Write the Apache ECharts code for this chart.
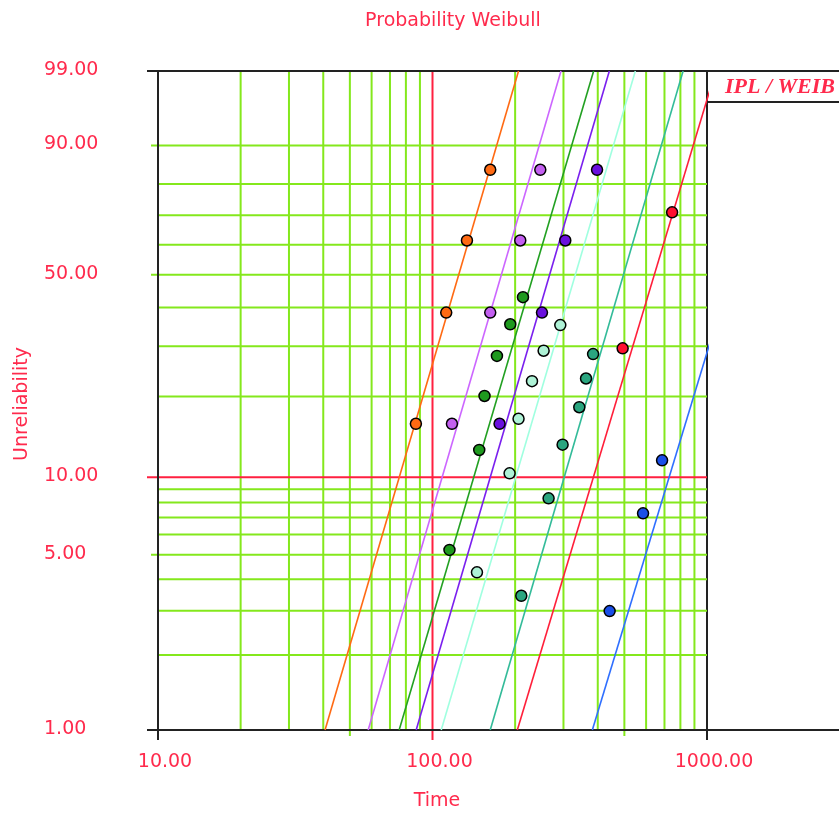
<!DOCTYPE html>
<html>
<head>
<meta charset="utf-8">
<script src="https://cdn.jsdelivr.net/npm/echarts@6/dist/echarts.min.js"></script>
<style>
  html, body { margin: 0; padding: 0; background: #fff; }
  #chart { width: 839px; height: 813px; }
</style>
</head>
<body>
<div id="chart"></div>
<script>
// Weibull probability paper: log time on x, ln(-ln(1-F)) on y.
const timeTicks = [10, 100, 1000];
const unrelTicks = [1, 5, 10, 50, 90, 99];
const timeGrid = [20, 30, 40, 50, 60, 70, 80, 90, 100, 200, 300, 400, 500, 600, 700, 800, 900, 1000];
const unrelGrid = [2, 3, 4, 5, 6, 7, 8, 9, 10, 20, 30, 40, 50, 60, 70, 80, 90];

// Observed failures: time and unreliability (%)
const orangeTimes = [87.0, 112.2, 133.5, 162.3];
const orangeUnrel = [15.91, 38.57, 61.43, 84.09];
const purpleTimes = [117.7, 162.3, 208.8, 247.0];
const purpleUnrel = [15.91, 38.57, 61.43, 84.09];
const violetTimes = [175.5, 250.5, 304.6, 397.6];
const violetUnrel = [15.91, 38.57, 61.43, 84.09];
const greenTimes = [115.3, 148.0, 154.7, 171.7, 192.0, 213.6];
const greenUnrel = [5.22, 12.7, 20.1, 27.8, 35.4, 43.0];
const cyanTimes = [145.2, 190.9, 205.8, 230.4, 254.0, 292.1];
const cyanUnrel = [4.26, 10.35, 16.6, 22.7, 28.95, 35.2];
const tealTimes = [210.6, 264.8, 297.8, 342.6, 362.5, 384.6];
const tealUnrel = [3.44, 8.3, 13.3, 18.3, 23.2, 28.2];
const redTimes = [492.8, 746.2];
const redUnrel = [29.5, 71.0];
const blueTimes = [441.9, 584.8, 686.0];
const blueUnrel = [2.99, 7.26, 11.6];

// Fitted Weibull lines: times at 1% and 99% unreliability
const fitUnrel = [1, 99];
const orangeFit = [40.6, 205.8];
const purpleFit = [58.3, 293.8];
const greenFit = [75.6, 386.4];
const violetFit = [87.2, 440.8];
const cyanFit = [107.6, 548.3];
const tealFit = [162.3, 818.4];
const redFit = [203.7, 1075];
const blueFit = [382.2, 2050];

const wb = p => Math.log(-Math.log(1 - p / 100));
const Y_MIN = wb(1), Y_MAX = wb(99);

const TXT = '#ff2a4c';
const GREEN = '#84e81c';
const RED = '#ff2040';
const BLACK = '#222';
const FONT = '"DejaVu Sans", sans-serif';

// grid line specs
const gridSpecs = [];
timeGrid.forEach(v => {
  let color = GREEN, ext = 0;
  if (v === 100) { color = RED; ext = 10; }
  else if (v === 1000) { color = BLACK; ext = 10; }
  else if (v === 50 || v === 500) { ext = 6; }
  gridSpecs.push({ dir: 'v', v, color, ext });
});
unrelGrid.forEach(p => {
  let color = GREEN, ext = 0;
  if (p === 10) { color = RED; ext = 11; }
  else if (p === 5 || p === 50 || p === 90) { ext = 7; }
  gridSpecs.push({ dir: 'h', v: p, color, ext });
});
// frame: left axis, bottom and top lines
gridSpecs.push({ dir: 'v', v: 10, color: BLACK, ext: 10, frame: true });
gridSpecs.push({ dir: 'h', v: 1, color: BLACK, ext: 11, full: true });
gridSpecs.push({ dir: 'h', v: 99, color: BLACK, ext: 11, full: true });

function pts(times, unrel) {
  return times.map((t, i) => [t, wb(unrel[i])]);
}

const seriesDefs = [
  { name: 'orange', times: orangeTimes, unrel: orangeUnrel, fit: orangeFit, line: '#ff6a13', dot: '#ff6a13' },
  { name: 'purple', times: purpleTimes, unrel: purpleUnrel, fit: purpleFit, line: '#cc66ff', dot: '#c35ff0' },
  { name: 'green', times: greenTimes, unrel: greenUnrel, fit: greenFit, line: '#22a022', dot: '#1f9a1f' },
  { name: 'violet', times: violetTimes, unrel: violetUnrel, fit: violetFit, line: '#7a1fee', dot: '#6a10dd' },
  { name: 'cyan', times: cyanTimes, unrel: cyanUnrel, fit: cyanFit, line: '#a0ffe0', dot: '#aef2d6' },
  { name: 'teal', times: tealTimes, unrel: tealUnrel, fit: tealFit, line: '#33bb99', dot: '#2aa57f' },
  { name: 'red', times: redTimes, unrel: redUnrel, fit: redFit, line: '#ff1f3a', dot: '#ff1030' },
  { name: 'blue', times: blueTimes, unrel: blueUnrel, fit: blueFit, line: '#2f6fff', dot: '#1a4fe8' }
];

const series = [];

series.push({
  type: 'custom',
  silent: true,
  z: 1,
  data: gridSpecs.map(s => s.dir === 'v' ? [s.v, Y_MIN] : [10, wb(s.v)]),
  renderItem: function (params, api) {
    const s = gridSpecs[params.dataIndex];
    let x1, y1, x2, y2;
    if (s.dir === 'v') {
      const top = api.coord([s.v, Y_MAX]);
      const bot = api.coord([s.v, Y_MIN]);
      x1 = top[0]; y1 = top[1]; x2 = bot[0]; y2 = bot[1] + s.ext;
    } else {
      const l = api.coord([10, wb(s.v)]);
      const r = api.coord([1000, wb(s.v)]);
      x1 = l[0] - s.ext; y1 = l[1]; x2 = s.full ? api.getWidth() : r[0]; y2 = r[1];
    }
    return {
      type: 'line',
      shape: { x1, y1, x2, y2 },
      style: { stroke: s.color, lineWidth: 2 }
    };
  }
});

// axis tick labels
const labelSpecs = unrelTicks.map(p => ({ axis: 'y', v: p }))
  .concat(timeTicks.map(t => ({ axis: 'x', v: t })));
series.push({
  type: 'custom',
  silent: true,
  z: 5,
  data: labelSpecs.map(s => s.axis === 'y' ? [10, wb(s.v)] : [s.v, Y_MIN]),
  renderItem: function (params, api) {
    const s = labelSpecs[params.dataIndex];
    if (s.axis === 'y') {
      const p = api.coord([10, wb(s.v)]);
      return {
        type: 'text',
        style: { text: s.v.toFixed(2), x: 44, y: p[1] - 1, textAlign: 'left', textVerticalAlign: 'middle',
                 fill: TXT, font: '19px ' + FONT }
      };
    }
    const p = api.coord([s.v, Y_MIN]);
    return {
      type: 'text',
      style: { text: s.v.toFixed(2), x: p[0] + 7, y: p[1] + 32, textAlign: 'center', textVerticalAlign: 'middle',
               fill: TXT, font: '19px ' + FONT }
    };
  }
});

seriesDefs.forEach(d => {
  series.push({
    name: d.name + ' fit',
    type: 'line',
    z: 3,
    silent: true,
    symbol: 'none',
    clip: true,
    lineStyle: { color: d.line, width: 1.6 },
    data: d.fit.map((t, i) => [t, wb(fitUnrel[i])])
  });
});
seriesDefs.forEach(d => {
  series.push({
    name: d.name,
    type: 'scatter',
    z: 4,
    symbol: 'circle',
    symbolSize: 11,
    itemStyle: { color: d.dot, borderColor: '#000', borderWidth: 1.5, opacity: 1 },
    data: pts(d.times, d.unrel)
  });
});

const chart = echarts.init(document.getElementById('chart'), null, { renderer: 'canvas' });
chart.setOption({
  animation: false,
  backgroundColor: '#fff',
  grid: { left: 158, right: 132, top: 71, bottom: 83 },
  xAxis: {
    type: 'log', logBase: 10, min: 10, max: 1000,
    axisLine: { show: false }, axisTick: { show: false }, axisLabel: { show: false }, splitLine: { show: false }
  },
  yAxis: {
    type: 'value', min: Y_MIN, max: Y_MAX,
    axisLine: { show: false }, axisTick: { show: false }, axisLabel: { show: false }, splitLine: { show: false }
  },
  graphic: [
    { type: 'text', x: 453, y: 21, silent: true,
      style: { text: 'Probability Weibull', textAlign: 'center', textVerticalAlign: 'middle', fill: TXT, font: '19px ' + FONT } },
    { type: 'text', x: 437, y: 801, silent: true,
      style: { text: 'Time', textAlign: 'center', textVerticalAlign: 'middle', fill: TXT, font: '19px ' + FONT } },
    { type: 'text', x: 22, y: 404, rotation: Math.PI / 2, silent: true,
      style: { text: 'Unreliability', textAlign: 'center', textVerticalAlign: 'middle', fill: TXT, font: '19px ' + FONT } },
    { type: 'line', silent: true, z: 10,
      shape: { x1: 707, y1: 102, x2: 839, y2: 102 }, style: { stroke: BLACK, lineWidth: 2 } },
    { type: 'text', x: 780, y: 87, silent: true, z: 10,
      style: { text: 'IPL / WEIB', textAlign: 'center', textVerticalAlign: 'middle', fill: TXT,
               font: 'italic bold 22px "Liberation Serif", serif' } }
  ],
  series: series
});
</script>
</body>
</html>
